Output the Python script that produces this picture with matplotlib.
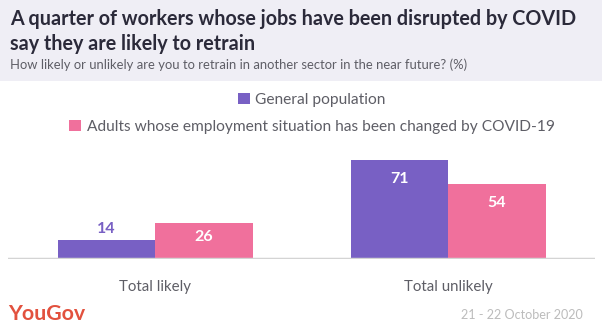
import matplotlib.pyplot as plt
from matplotlib.patches import Rectangle, Patch

plt.rcParams['font.family'] = ['Lato', 'DejaVu Sans']

categories = ['Total likely', 'Total unlikely']
series_names = ['General population',
                'Adults whose employment situation has been changed by COVID-19']
general_population = [14, 71]
covid_changed = [26, 54]

PURPLE = '#7860c4'
PINK = '#f0709c'
HEADER_BG = '#efeef5'
TITLE_COLOR = '#2b2a3a'
GREY_TEXT = '#5e5e66'

fig = plt.figure(figsize=(6.02, 3.29), dpi=100)
W, H = 602, 329


def fx(px):
    return px / W


def fy(py):
    return 1 - py / H


# header band
fig.patches.append(Rectangle((0, fy(81)), 1, 81 / H, transform=fig.transFigure,
                             facecolor=HEADER_BG, edgecolor='none', zorder=0))
fig.text(fx(10), fy(19), 'A quarter of workers whose jobs have been disrupted by COVID',
         fontsize=14.2, fontweight='bold', color=TITLE_COLOR, va='center')
fig.text(fx(10), fy(44), 'say they are likely to retrain',
         fontsize=14.2, fontweight='bold', color=TITLE_COLOR, va='center')
fig.text(fx(10), fy(65), 'How likely or unlikely are you to retrain in another sector in the near future? (%)',
         fontsize=9.4, color=GREY_TEXT, va='center')

# bar area
left, right, base, top = 8, 595, 259, 140
ax = fig.add_axes([fx(left), fy(base), fx(right - left), (base - top) / H])
ax.set_xlim(-0.502, 1.501)
ax.set_ylim(0, 119 / 1.39)
width = 0.333

for i, (vals, color) in enumerate([(general_population, PURPLE), (covid_changed, PINK)]):
    xs = [c + (i - 0.5) * width for c in range(len(categories))]
    ax.bar(xs, vals, width=width, color=color, edgecolor='none', zorder=2)
    for x, v in zip(xs, vals):
        if v < 20:
            ax.text(x, v + 7.5, str(v), ha='center', va='center', fontsize=11.5,
                    fontweight='bold', color=color)
        else:
            ax.text(x, v - min(13.5, v * 0.4), str(v), ha='center', va='center',
                    fontsize=11.5, fontweight='bold', color='white', zorder=3)

ax.axhline(0, color='#d4d4d4', lw=2.5, zorder=3)
for s in ax.spines.values():
    s.set_visible(False)
ax.set_yticks([])
ax.set_xticks(range(len(categories)))
ax.set_xticklabels(categories, fontsize=10.8, color=GREY_TEXT)
ax.tick_params(axis='x', length=0, pad=15)

# legend, one centred row per series
for name, color, py in [(series_names[0], PURPLE, 100), (series_names[1], PINK, 127)]:
    fig.legend(handles=[Patch(facecolor=color, edgecolor='none')], labels=[name],
               loc='center', bbox_to_anchor=(fx(312), fy(py)), frameon=False,
               fontsize=11.2, labelcolor=GREY_TEXT, handlelength=0.75, handleheight=0.75,
               handletextpad=0.35, borderpad=0, borderaxespad=0)

# footer
fig.text(fx(8), fy(314), 'YouGov', fontsize=15.4, fontweight='bold', color='#e2513e',
         va='center')
fig.text(fx(583), fy(315), '21 - 22 October 2020', fontsize=9.1, color='#bcbcbc',
         va='center', ha='right')

fig.savefig('out.png', dpi=100)
